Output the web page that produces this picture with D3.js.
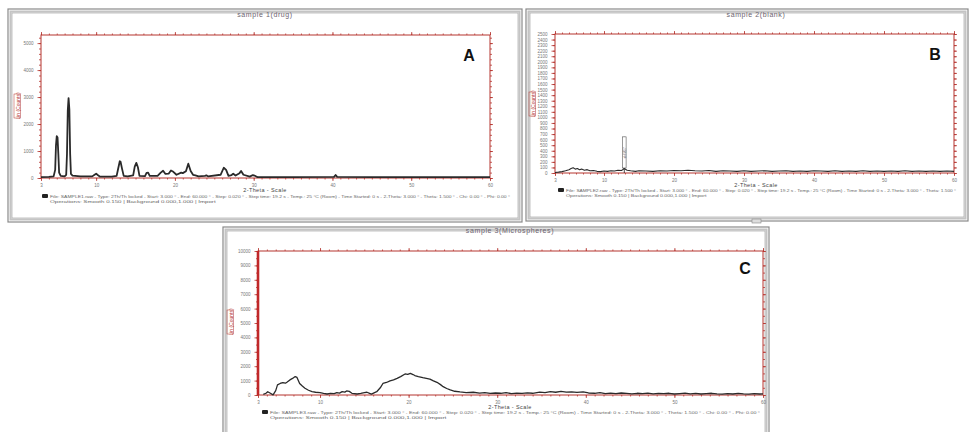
<!DOCTYPE html>
<html><head><meta charset="utf-8">
<script src="https://cdn.jsdelivr.net/npm/d3@7"></script>
<style>body{margin:0;background:#fff;}svg{display:block;font-family:"Liberation Sans",Arial,sans-serif;}</style>
</head><body>
<script>
// ---------- data ----------
const panelTitles = ["sample 1(drug)", "sample 2(blank)", "sample 3(Microspheres)"];
const panelLetters = ["A", "B", "C"];
const xAxisTitle = "2-Theta - Scale";
const yAxisTitle = "Lin (Counts)";
const twoThetaTicks = [3, 10, 20, 30, 40, 50, 60];
const yTicksA = [0, 1000, 2000, 3000, 4000, 5000];
const yTicksB = [0,100,200,300,400,500,600,700,800,900,1000,1100,1200,1300,1400,1500,1600,1700,1800,1900,2000,2100,2200,2300,2400,2500];
const yTicksC = [0,1000,2000,3000,4000,5000,6000,7000,8000,9000,10000];

// sample 1 (drug): [2-theta, counts]
const traceA = [[3.0,30],[4.0,40],[4.6,60],[4.8,300],[4.9,1200],[5.0,1550],[5.1,1500],[5.2,900],[5.3,200],[5.5,80],[6.0,60],[6.2,120],[6.3,900],[6.4,2500],[6.5,2960],[6.6,2550],[6.7,900],[6.8,150],[7.0,90],[8.0,60],[9.5,60],[9.8,120],[10.0,160],[10.2,110],[10.5,50],[12.0,50],[12.6,80],[12.8,350],[13.0,620],[13.1,600],[13.3,330],[13.5,80],[14.0,60],[14.7,100],[14.9,420],[15.1,560],[15.3,400],[15.5,80],[16.2,70],[16.4,190],[16.6,200],[16.8,80],[17.8,80],[18.2,200],[18.5,270],[18.8,150],[19.2,160],[19.5,280],[19.8,230],[20.2,120],[20.8,200],[21.0,180],[21.4,250],[21.7,530],[22.0,260],[22.3,120],[22.6,100],[23.0,60],[23.8,80],[24.0,100],[24.2,60],[25.8,120],[26.2,380],[26.5,300],[26.8,80],[27.2,110],[27.4,160],[27.7,90],[28.2,180],[28.4,260],[28.7,120],[29.5,50],[29.9,110],[30.1,90],[30.5,30],[35.0,30],[40.2,40],[40.4,110],[40.6,40],[45.0,30],[50.0,30],[55.0,30],[60.0,30]];

// sample 2 (blank)
const traceB = [[3.0,10],[3.5,15],[4.0,25],[4.5,40],[5.0,60],[5.3,80],[5.6,95],[5.9,70],[6.2,80],[6.5,60],[6.8,70],[7.2,50],[7.6,60],[8.0,40],[8.5,45],[9.0,30],[9.5,25],[10,35],[10.5,30],[11,40],[11.5,35],[12,50],[12.5,45],[12.8,70],[12.9,110],[13.0,70],[13.3,50],[13.8,40],[14.5,30],[15,40],[16,35],[17,30],[18,40],[19,35],[20,45],[21,40],[22,50],[23,40],[24,35],[25,45],[26,30],[27,40],[28,35],[29,30],[30,40],[31,30],[32,35],[33,40],[34,30],[35,35],[36,40],[37,30],[38,35],[39,30],[40,40],[41,35],[42,30],[43,40],[44,30],[45,35],[46,30],[47,40],[48,30],[49,35],[50,30],[51,35],[52,30],[53,40],[54,30],[55,35],[56,30],[57,35],[58,30],[59,35],[60,30]];
const markerB = [12.9, 650];
const markerLabelB = "d=6.857";

// sample 3 (microspheres)
const traceC = [[3.6,40],[3.9,120],[4.1,230],[4.4,120],[4.7,10],[5.0,300],[5.2,700],[5.5,800],[5.8,860],[6.1,820],[6.3,900],[6.6,1050],[6.9,1150],[7.2,1280],[7.4,1220],[7.7,800],[8.0,620],[8.3,470],[8.7,330],[9.1,230],[9.5,190],[10.0,160],[10.4,110],[10.8,70],[11.2,120],[11.6,90],[11.9,160],[12.2,130],[12.5,230],[12.8,200],[13.0,280],[13.3,250],[13.6,120],[14.2,70],[14.6,110],[15.0,160],[15.3,190],[15.6,110],[15.8,60],[16.1,150],[16.4,230],[16.8,500],[17.1,800],[17.5,870],[17.9,980],[18.3,1050],[18.7,1160],[19.1,1280],[19.6,1460],[19.9,1430],[20.2,1500],[20.5,1420],[20.7,1350],[21.1,1280],[21.6,1200],[22.0,1150],[22.4,1100],[22.8,980],[23.2,880],[23.6,720],[23.9,580],[24.3,450],[24.7,350],[25.2,260],[25.8,210],[26.5,170],[27.3,190],[28.0,130],[28.6,160],[29.2,110],[29.8,140],[30.4,120],[31.0,160],[31.6,100],[32.2,130],[32.8,110],[33.4,150],[34.0,120],[34.8,200],[35.4,170],[36.0,230],[36.6,190],[37.2,250],[37.8,200],[38.4,220],[39.0,180],[39.7,210],[40.3,140],[41.0,120],[41.6,160],[42.2,100],[42.8,130],[43.4,90],[44.0,140],[44.6,110],[45.2,80],[45.8,120],[46.4,100],[47.0,130],[47.6,80],[48.2,110],[48.8,90],[49.4,120],[50.0,70],[50.6,100],[51.2,130],[51.8,80],[52.4,110],[53.0,70],[53.6,100],[54.2,120],[54.8,80],[55.4,60],[56.0,100],[56.6,70],[57.2,110],[57.8,80],[58.4,60],[59.0,90],[59.6,70],[60.0,80]];

const footerLines = [
 ["File: SAMPLE1.raw - Type: 2Th/Th locked - Start: 3.000 ° - End: 60.000 ° - Step: 0.020 ° - Step time: 19.2 s - Temp.: 25 °C (Room) - Time Started: 0 s - 2-Theta: 3.000 ° - Theta: 1.500 ° - Chi: 0.00 ° - Phi: 0.00 °",
  "Operations: Smooth 0.150 | Background 0.000,1.000 | Import"],
 ["File: SAMPLE2.raw - Type: 2Th/Th locked - Start: 3.000 ° - End: 60.000 ° - Step: 0.020 ° - Step time: 19.2 s - Temp.: 25 °C (Room) - Time Started: 0 s - 2-Theta: 3.000 ° - Theta: 1.500 °",
  "Operations: Smooth 0.150 | Background 0.000,1.000 | Import"],
 ["File: SAMPLE3.raw - Type: 2Th/Th locked - Start: 3.000 ° - End: 60.000 ° - Step: 0.020 ° - Step time: 19.2 s - Temp.: 25 °C (Room) - Time Started: 0 s - 2-Theta: 3.000 ° - Theta: 1.500 ° - Chi: 0.00 ° - Phi: 0.00 °",
  "Operations: Smooth 0.150 | Background 0.000,1.000 | Import"]
];

// ---------- layout ----------
const RED = "#b5342f";
const panels = [
 {frame:[8,9,514,213], plot:[41,490,35,178], yMax:5300, yTicks:yTicksA, yMinor:200, trace:traceA,
  title:[265,17], letter:[469,61], xlab:[265,192], footer:[42,197,460], ylab:[18,106], lw:1.8},
 {frame:[526,9,442,212], plot:[555,954,34,173], yMax:2500, yTicks:yTicksB, yMinor:100, trace:traceB,
  title:[756,17], letter:[935,60], xlab:[756,187], footer:[558,191,390], ylab:[533,104], lw:1.1},
 {frame:[223,227,546,215], plot:[258,763,251,395], yMax:10000, yTicks:yTicksC, yMinor:500, trace:traceC,
  title:[510,233], letter:[745,274], xlab:[510,409], footer:[262,413,490], ylab:[231,322], lw:1.3, thickLeft:true}
];

const svg = d3.select("body").append("svg").attr("width",971).attr("height",432);
svg.append("rect").attr("width",971).attr("height",432).attr("fill","#fff");

panels.forEach((p,i)=>{
  const [fx,fy,fw,fh] = p.frame;
  const g = svg.append("g");
  // window frame
  g.append("rect").attr("x",fx).attr("y",fy).attr("width",fw).attr("height",fh)
   .attr("fill","#fff").attr("stroke","#8a8a8a").attr("stroke-width",1.2);
  g.append("rect").attr("x",fx+2.5).attr("y",fy+2.5).attr("width",fw-5).attr("height",fh-5)
   .attr("fill","none").attr("stroke","#c4c4c4").attr("stroke-width",2);
  g.append("rect").attr("x",fx+4).attr("y",fy+4).attr("width",fw-8).attr("height",fh-8)
   .attr("fill","none").attr("stroke","#9a9a9a").attr("stroke-width",0.6);

  const [x0,x1,y0,y1] = p.plot;
  const x = d3.scaleLinear().domain([3,60]).range([x0,x1]);
  const y = d3.scaleLinear().domain([0,p.yMax]).range([y1,y0]);
  const minorX = d3.range(3,61,1);
  const minorY = d3.range(0,p.yMax+1,p.yMinor);

  const style = (sel, labels) => {
    sel.select(".domain").remove();
    sel.selectAll(".tick line").attr("stroke",RED).attr("stroke-width",0.8);
    sel.selectAll(".tick text").attr("fill", labels ? "#777" : "none")
       .attr("font-size", labels ? "4.5px" : "0px");
  };
  // minor ticks
  g.append("g").attr("transform",`translate(0,${y1})`).call(d3.axisBottom(x).tickValues(minorX).tickSize(1.5).tickFormat("")).call(s=>style(s,false));
  g.append("g").attr("transform",`translate(0,${y0})`).call(d3.axisTop(x).tickValues(minorX).tickSize(1.5).tickFormat("")).call(s=>style(s,false));
  g.append("g").attr("transform",`translate(${x0},0)`).call(d3.axisLeft(y).tickValues(minorY).tickSize(2).tickFormat("")).call(s=>style(s,false));
  g.append("g").attr("transform",`translate(${x1},0)`).call(d3.axisRight(y).tickValues(minorY).tickSize(2).tickFormat("")).call(s=>style(s,false));
  // major ticks with labels
  g.append("g").attr("transform",`translate(0,${y1})`).call(d3.axisBottom(x).tickValues(twoThetaTicks).tickSize(3).tickPadding(3).tickFormat(d3.format("d"))).call(s=>style(s,true));
  g.append("g").attr("transform",`translate(0,${y0})`).call(d3.axisTop(x).tickValues(twoThetaTicks).tickSize(3).tickFormat("")).call(s=>style(s,false));
  g.append("g").attr("transform",`translate(${x0},0)`).call(d3.axisLeft(y).tickValues(p.yTicks).tickSize(3.5).tickPadding(4).tickFormat(d3.format("d"))).call(s=>style(s,true));
  g.append("g").attr("transform",`translate(${x1},0)`).call(d3.axisRight(y).tickValues(p.yTicks).tickSize(3).tickFormat("")).call(s=>style(s,false));

  // plot box
  g.append("rect").attr("x",x0).attr("y",y0).attr("width",x1-x0).attr("height",y1-y0)
   .attr("fill","none").attr("stroke",RED).attr("stroke-width",1);
  if (p.thickLeft) g.append("line").attr("x1",x0).attr("x2",x0).attr("y1",y0).attr("y2",y1)
   .attr("stroke","#c0282a").attr("stroke-width",2.6);

  // trace
  const line = d3.line().x(d=>x(d[0])).y(d=>y(d[1]));
  g.append("path").datum(p.trace).attr("d",line).attr("fill","none")
   .attr("stroke","#2a2a2a").attr("stroke-width",p.lw).attr("stroke-linejoin","round");

  // marker in B
  if (i===1) {
    const mx = x(markerB[0]);
    g.append("line").attr("x1",mx).attr("x2",mx).attr("y1",y(0)).attr("y2",y(markerB[1]))
     .attr("stroke","#222").attr("stroke-width",0.8);
    g.append("rect").attr("x",mx-1.8).attr("y",y(markerB[1])).attr("width",3.6).attr("height",y(90)-y(markerB[1]))
     .attr("fill","#fff").attr("stroke","#555").attr("stroke-width",0.6);
    g.append("text").attr("transform",`translate(${mx+1.2},${y(markerB[1])+16}) rotate(-90)`)
     .attr("text-anchor","middle").attr("font-size","3px").attr("fill","#444").text(markerLabelB);
    g.append("rect").attr("x",752).attr("y",219).attr("width",9).attr("height",4).attr("fill","#ddd").attr("stroke","#888").attr("stroke-width",0.6);
  }

  // texts
  g.append("text").attr("x",p.title[0]).attr("y",p.title[1]).attr("text-anchor","middle")
   .attr("font-size","7px").attr("letter-spacing","0.6px").attr("fill","#6d6470").text(panelTitles[i]);
  g.append("text").attr("x",p.letter[0]).attr("y",p.letter[1]).attr("text-anchor","middle")
   .attr("font-size","16px").attr("font-weight","bold").attr("fill","#111").text(panelLetters[i]);
  g.append("text").attr("x",p.xlab[0]).attr("y",p.xlab[1]).attr("text-anchor","middle")
   .attr("font-size","5.5px").attr("letter-spacing","0.4px").attr("fill","#444").text(xAxisTitle);
  const yl = g.append("g").attr("transform",`translate(${p.ylab[0]},${p.ylab[1]}) rotate(-90)`);
  yl.append("rect").attr("x",-12).attr("y",-4).attr("width",24).attr("height",6.5)
   .attr("fill","none").attr("stroke",RED).attr("stroke-width",0.5);
  yl.append("text").attr("x",0).attr("y",1.5).attr("text-anchor","middle")
   .attr("font-size","5px").attr("fill",RED).text(yAxisTitle);

  // footer
  const [ftx,fty,fwid] = p.footer;
  g.append("rect").attr("x",ftx).attr("y",fty-3).attr("width",6).attr("height",4).attr("rx",1).attr("fill","#222");
  g.append("text").attr("x",ftx+8).attr("y",fty+0.5).attr("font-size","3.6px").attr("fill","#666")
   .attr("textLength",fwid).attr("lengthAdjust","spacingAndGlyphs").text(footerLines[i][0]);
  g.append("text").attr("x",ftx+8).attr("y",fty+5.5).attr("font-size","3.6px").attr("fill","#666")
   .attr("textLength",fwid*0.36).attr("lengthAdjust","spacingAndGlyphs").text(footerLines[i][1]);
});
</script>
</body></html>
